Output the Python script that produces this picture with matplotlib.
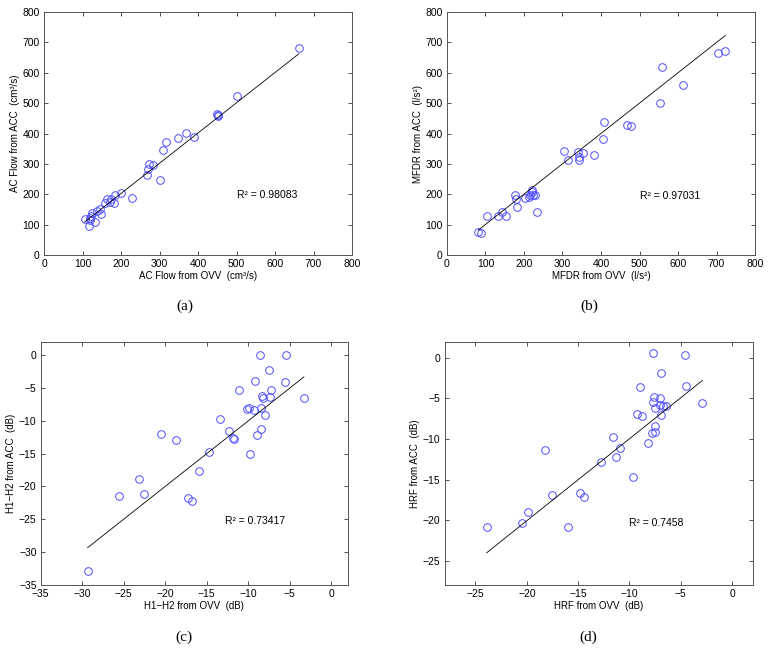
from matplotlib import pyplot as plt
import numpy as np

plt.rcParams['font.family'] = ['Liberation Sans', 'DejaVu Sans']
plt.rcParams['font.size'] = 7.5

# (a) AC flow, cm^3/s
ac_ovv = [105.6, 116, 118.6, 122, 119.5, 125.5, 133, 138.5, 144.6, 149, 157.6, 164.5,
          170.6, 175, 181, 183.5, 201, 228.6, 268, 269, 272, 284, 300, 310, 318, 348,
          370, 389.6, 449, 451, 453, 501, 662]
ac_acc = [117, 95, 120.5, 128, 115, 137, 110, 145, 151, 134, 170, 184,
          173, 183, 171, 197, 205, 187, 264, 284, 299, 298, 248, 345, 373, 384,
          402, 389, 465, 460, 457, 524, 682]

# (b) MFDR, l/s^2
mfdr_ovv = [81.4, 87.4, 104, 132.5, 143.7, 152.4, 175.8, 179, 181, 202.6, 212, 215.6,
            220, 220.8, 223, 228.6, 233, 305, 315, 341, 342, 342, 353, 381, 404, 408,
            468, 479, 553, 559, 614, 704, 723]
mfdr_acc = [77, 73, 129, 129, 140, 129, 197, 186, 157, 188, 192, 197,
            209, 213, 199, 197, 140, 343, 312, 338, 314, 322, 336, 329, 381, 439,
            428, 426, 502, 618, 559, 666, 672]

# (c) H1-H2, dB
h12_ovv = [-29.35, -25.6, -23.2, -22.5, -20.5, -18.7, -17.2, -16.8, -15.9, -14.7, -13.4,
           -12.3, -11.9, -11.7, -11.1, -10.1, -9.9, -9.8, -9.3, -9.2, -8.9, -8.6, -8.5,
           -8.5, -8.4, -8.2, -8.0, -7.5, -7.4, -7.3, -5.6, -5.4, -3.3]
h12_acc = [-32.8, -21.5, -18.9, -21.2, -12.0, -13.0, -21.7, -22.2, -17.7, -14.7, -9.7,
           -11.6, -12.7, -12.8, -5.4, -8.2, -8.0, -15.1, -8.3, -3.9, -12.1, 0.0, -8.0,
           -11.2, -6.2, -6.6, -9.1, -2.3, -6.4, -5.3, -4.1, 0.0, -6.5]

# (d) HRF, dB
hrf_ovv = [-23.9, -20.5, -19.9, -18.2, -17.5, -16.0, -14.8, -14.4, -12.8, -11.6, -11.3,
           -10.9, -9.7, -9.3, -9.0, -8.8, -8.2, -7.8, -7.7, -7.7, -7.6, -7.55, -7.5,
           -7.5, -7.0, -6.9, -6.9, -7.0, -6.7, -6.4, -4.6, -4.5, -2.9]
hrf_acc = [-20.8, -20.3, -19.0, -11.4, -16.9, -20.9, -16.7, -17.1, -12.9, -9.8, -12.2,
           -11.1, -14.7, -6.9, -3.6, -7.2, -10.5, -9.3, 0.6, -5.4, -4.8, -9.2, -6.2,
           -8.4, -4.9, -1.9, -7.0, -5.8, -5.9, -6.0, 0.4, -3.5, -5.6]

# linear fits as printed (slope, intercept)
fit_a = (0.996, 3.4)
fit_b = (0.999, 0.7)
fit_c = (0.997, -0.05)
fit_d = (1.01, 0.13)

panels = [
    dict(x=ac_ovv, y=ac_acc, fit=fit_a, r2='0.98083', xlab='AC Flow from OVV  (cm³/s)',
         ylab='AC Flow from ACC  (cm³/s)', lim=(0, 800), ticks=np.arange(0, 801, 100),
         txt=(500, 197), tag='(a)', rect=[0.057, 0.6095, 0.399, 0.372], tagpos=(0.240, 0.531)),
    dict(x=mfdr_ovv, y=mfdr_acc, fit=fit_b, r2='0.97031', xlab='MFDR from OVV  (l/s²)',
         ylab='MFDR from ACC  (l/s²)', lim=(0, 800), ticks=np.arange(0, 801, 100),
         txt=(502, 195), tag='(b)', rect=[0.579, 0.6095, 0.399, 0.372], tagpos=(0.764, 0.531)),
    dict(x=h12_ovv, y=h12_acc, fit=fit_c, r2='0.73417', xlab='H1−H2 from OVV  (dB)',
         ylab='H1−H2 from ACC  (dB)', lim=(-35, 2), ticks=np.arange(-35, 1, 5),
         txt=(-12.8, -25.3), tag='(c)', rect=[0.0527, 0.104, 0.398, 0.3726], tagpos=(0.238, 0.024)),
    dict(x=hrf_ovv, y=hrf_acc, fit=fit_d, r2='0.7458', xlab='HRF from OVV  (dB)',
         ylab='HRF from ACC  (dB)', lim=(-28, 2), ticks=np.arange(-25, 1, 5),
         txt=(-10.0, -20.3), tag='(d)', rect=[0.576, 0.104, 0.399, 0.373], tagpos=(0.762, 0.024)),
]

fig = plt.figure(figsize=(7.72, 6.53), dpi=100)

for p in panels:
    ax = fig.add_axes(p['rect'])
    x = np.array(p['x'])
    y = np.array(p['y'])
    ax.plot(x, y, 'o', mfc='none', mec=(0.3, 0.3, 1.0), mew=0.7, ms=5.5)
    k, b = p['fit']
    xx = np.array([x.min(), x.max()])
    ax.plot(xx, k * xx + b, color='k', lw=0.6)
    ax.text(p['txt'][0], p['txt'][1], 'R² = ' + p['r2'], va='center', ha='left')
    ax.set_xlim(p['lim'])
    ax.set_ylim(p['lim'])
    ax.set_xticks(p['ticks'])
    ax.set_yticks(p['ticks'])
    ax.set_xlabel(p['xlab'], labelpad=1.5, fontsize=7)
    ax.set_ylabel(p['ylab'], labelpad=2, fontsize=7)
    ax.tick_params(direction='in', top=True, right=True, length=3, width=0.6,
                   colors='#333333', labelcolor='k', pad=3)
    for s in ax.spines.values():
        s.set_linewidth(0.7)
        s.set_color('#555555')
    fig.text(p['tagpos'][0], p['tagpos'][1], p['tag'], ha='center', va='center',
             family='Liberation Serif', fontsize=11)

plt.savefig('out.png', dpi=100)
